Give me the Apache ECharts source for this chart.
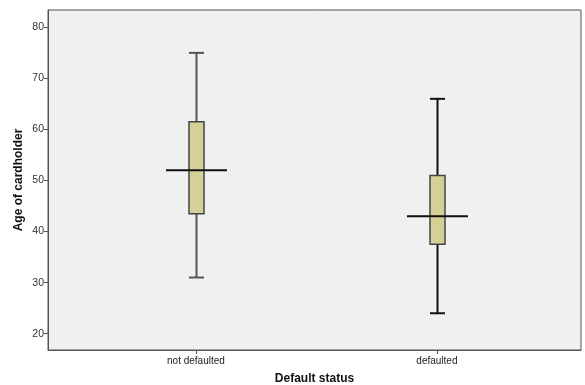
<!DOCTYPE html>
<html><head><meta charset="utf-8">
<script src="https://cdn.jsdelivr.net/npm/echarts@6/dist/echarts.min.js"></script>
<style>html,body{margin:0;padding:0;background:#fff}#c{width:585px;height:385px}</style>
</head><body><div id="c"></div>
<script>
const categories = ['not defaulted', 'defaulted'];
const categoryPos = [1, 2];
const whiskerMin = [31, 24];
const q1 = [43.5, 37.5];
const median = [52, 43];
const q3 = [61.5, 51];
const whiskerMax = [75, 66];
const yTicks = [20, 30, 40, 50, 60, 70, 80];
const whiskerColors = ['#555555', '#111111'];

const data = categories.map((c, i) => [categoryPos[i], whiskerMin[i], q1[i], median[i], q3[i], whiskerMax[i]]);

const chart = echarts.init(document.getElementById('c'));
chart.setOption({
  animation: false,
  grid: { left: 48, top: 10, right: 4, bottom: 35, outerBoundsMode: 'none', containLabel: false, show: true, backgroundColor: '#f0f0f0', borderColor: '#555', borderWidth: 1 },
  xAxis: {
    type: 'value', min: 0.386, max: 2.598,
    name: 'Default status', nameLocation: 'middle', nameGap: 23, nameMoveOverlap: false,
    nameTextStyle: { fontFamily: 'Liberation Sans, Arial', fontWeight: 'bold', fontSize: 12, color: '#111' },
    axisLine: { show: true, lineStyle: { color: '#555' } },
    axisTick: { show: true, length: 4, customValues: categoryPos, lineStyle: { color: '#555' } },
    axisLabel: { customValues: categoryPos, formatter: v => categories[categoryPos.indexOf(v)] || '', fontFamily: 'Liberation Sans, Arial', fontSize: 10, color: '#222', margin: 6 },
    splitLine: { show: false }
  },
  yAxis: {
    type: 'value', min: 16.8, max: 83.4,
    name: 'Age of cardholder', nameLocation: 'middle', nameGap: 23, nameRotate: 90, nameMoveOverlap: false,
    nameTextStyle: { fontFamily: 'Liberation Sans, Arial', fontWeight: 'bold', fontSize: 12, color: '#111' },
    axisLine: { show: true, lineStyle: { color: '#555' } },
    axisTick: { show: true, length: 4, customValues: yTicks, lineStyle: { color: '#555' } },
    axisLabel: { customValues: yTicks, fontFamily: 'Liberation Sans, Arial', fontSize: 10.5, color: '#333', margin: 4 },
    splitLine: { show: false }
  },
  series: [{
    type: 'custom',
    data: data,
    renderItem: function (params, api) {
      const x = api.value(0);
      const p = v => api.coord([x, v]);
      const pMin = p(api.value(1)), pQ1 = p(api.value(2)), pMed = p(api.value(3)), pQ3 = p(api.value(4)), pMax = p(api.value(5));
      const cx = Math.round(pMin[0]) + 0.5;
      const bw = 15, mw = 61, cw = 15;
      const wc = whiskerColors[params.dataIndex];
      return {
        type: 'group',
        children: [
          { type: 'line', shape: { x1: cx, y1: pMax[1], x2: cx, y2: pMin[1] }, style: { stroke: wc, lineWidth: 2 } },
          { type: 'line', shape: { x1: cx - cw / 2, y1: pMax[1], x2: cx + cw / 2, y2: pMax[1] }, style: { stroke: wc, lineWidth: 2 } },
          { type: 'line', shape: { x1: cx - cw / 2, y1: pMin[1], x2: cx + cw / 2, y2: pMin[1] }, style: { stroke: wc, lineWidth: 2 } },
          { type: 'rect', shape: { x: cx - bw / 2, y: pQ3[1], width: bw, height: pQ1[1] - pQ3[1] }, style: { fill: '#d4d098', stroke: '#444', lineWidth: 1.5 } },
          { type: 'line', shape: { x1: cx - mw / 2, y1: pMed[1], x2: cx + mw / 2, y2: pMed[1] }, style: { stroke: '#111', lineWidth: 2 } }
        ]
      };
    }
  }]
});
</script></body></html>
